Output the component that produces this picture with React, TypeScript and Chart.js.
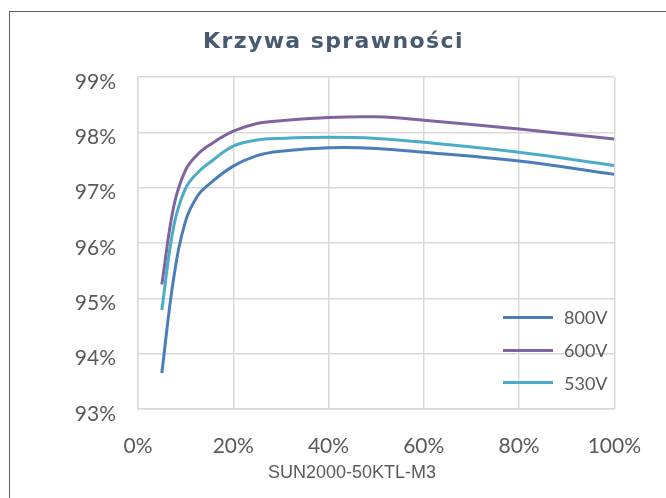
import React, { useEffect, useRef } from "react";
import { Chart, registerables } from "chart.js";

Chart.register(...registerables);

// ---- data ----
const loadPct = [5, 7.5, 10, 12.5, 15, 20, 25, 30, 40, 50, 60, 80, 100];
const seriesNames = ["800V", "600V", "530V"];
const seriesColors = ["#4a7ebb", "#8064a2", "#4bacc6"];
const eff800 = [93.65, 95.37, 96.4, 96.85, 97.07, 97.39, 97.58, 97.66, 97.72, 97.71, 97.64, 97.48, 97.24];
const eff600 = [95.25, 96.66, 97.32, 97.6, 97.77, 98.02, 98.16, 98.21, 98.27, 98.28, 98.22, 98.06, 97.88];
const eff530 = [94.79, 96.3, 96.99, 97.27, 97.45, 97.75, 97.86, 97.89, 97.91, 97.89, 97.82, 97.64, 97.4];
const seriesValues = [eff800, eff600, eff530];
const xTicks = [0, 20, 40, 60, 80, 100];
const yTicks = [93, 94, 95, 96, 97, 98, 99];
const titleText = "Krzywa sprawności";
const xAxisCaption = "SUN2000-50KTL-M3";

const GRID = "#d9d9d9";
const TEXT = "#595959";

export default function App() {
  const canvasRef = useRef<HTMLCanvasElement | null>(null);

  useEffect(() => {
    const canvas = canvasRef.current;
    if (!canvas) return;
    const chart = new Chart(canvas, {
      type: "line",
      data: {
        datasets: seriesNames.map((name, i) => ({
          label: name,
          data: loadPct.map((x, j) => ({ x, y: seriesValues[i][j] })),
          borderColor: seriesColors[i],
          backgroundColor: seriesColors[i],
          borderWidth: 3,
          pointRadius: 0,
          tension: 0.4,
          fill: false,
        })),
      },
      options: {
        animation: false,
        responsive: false,
        devicePixelRatio: 1,
        layout: { padding: { top: 77, right: 48, bottom: 0, left: 0 } },
        plugins: {
          legend: { display: false },
          title: { display: false },
          tooltip: { enabled: false },
        },
        scales: {
          x: {
            type: "linear",
            min: 0,
            max: 100,
            afterBuildTicks: (scale: any) => {
              scale.ticks = xTicks.map((v) => ({ value: v }));
            },
            afterFit: (scale: any) => {
              scale.height = 89;
            },
            grid: { color: GRID, lineWidth: 1.5, drawTicks: false },
            border: { display: true, color: GRID, width: 1.5 },
            ticks: {
              padding: 25,
              color: TEXT,
              font: { family: "Lato", size: 21 },
              callback: (v: any) => v + "%",
            },
          },
          y: {
            type: "linear",
            min: 93,
            max: 99,
            afterBuildTicks: (scale: any) => {
              scale.ticks = yTicks.map((v) => ({ value: v }));
            },
            afterFit: (scale: any) => {
              scale.width = 138;
            },
            grid: { color: GRID, lineWidth: 1.5, drawTicks: false },
            border: { display: true, color: GRID, width: 1.5 },
            ticks: {
              padding: 22,
              labelOffset: 5,
              color: TEXT,
              font: { family: "Lato", size: 21 },
              callback: (v: any) => v + "%",
            },
          },
        },
      },
    });
    return () => chart.destroy();
  }, []);

  const legendTop = [317.3, 350, 382.7];

  return (
    <div
      style={{
        position: "fixed",
        left: 0,
        top: 0,
        width: 666,
        height: 498,
        background: "#ffffff",
        overflow: "hidden",
      }}
    >
      <div
        style={{
          position: "absolute",
          left: 9,
          top: 11,
          width: 700,
          height: 520,
          borderLeft: "1px solid #56626d",
          borderTop: "1px solid #56626d",
        }}
      />
      <canvas
        ref={canvasRef}
        width={666}
        height={498}
        style={{ position: "absolute", left: 0, top: 0, width: 666, height: 498 }}
      />
      <div
        style={{
          position: "absolute",
          left: 203,
          top: 29.4,
          whiteSpace: "nowrap",
          fontFamily: "'DejaVu Sans', sans-serif",
          fontWeight: 700,
          fontSize: 22,
          lineHeight: "24px",
          letterSpacing: "1.4px",
          color: "#475a70",
        }}
      >
        {titleText}
      </div>
      <div
        style={{
          position: "absolute",
          left: 268,
          top: 461.5,
          whiteSpace: "nowrap",
          fontFamily: "'Liberation Sans', Arial, sans-serif",
          fontSize: 18,
          lineHeight: "20px",
          color: TEXT,
        }}
      >
        {xAxisCaption}
      </div>
      {seriesNames.map((name, i) => (
        <React.Fragment key={name}>
          <div
            style={{
              position: "absolute",
              left: 503,
              top: legendTop[i] - 1.5,
              width: 50,
              height: 3,
              background: seriesColors[i],
            }}
          />
          <div
            style={{
              position: "absolute",
              left: 564,
              top: legendTop[i] - 11,
              whiteSpace: "nowrap",
              fontFamily: "Lato, sans-serif",
              fontSize: 18,
              lineHeight: "22px",
              color: TEXT,
            }}
          >
            {name}
          </div>
        </React.Fragment>
      ))}
    </div>
  );
}
